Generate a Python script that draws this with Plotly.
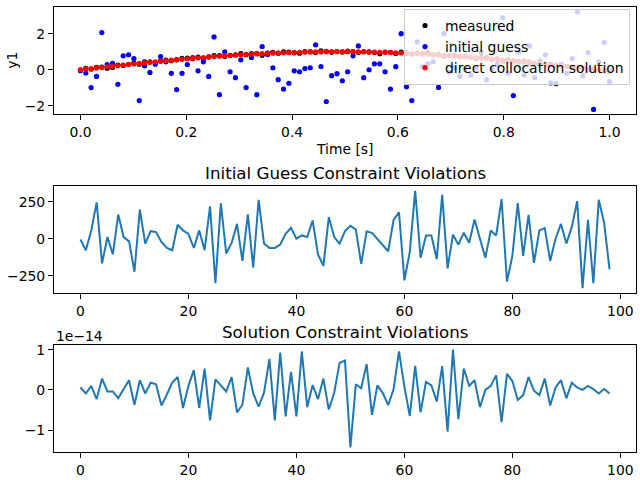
import numpy as np
import plotly.graph_objects as go

# ---------------- data ----------------
time = np.linspace(0.0, 1.0, 100)

measured = [-0.02, 0.08, 0.04, 0.14, 0.15, 0.09, 0.13, 0.26, 0.24, 0.30,
            0.37, 0.31, 0.44, 0.44, 0.39, 0.49, 0.54, 0.50, 0.56, 0.63,
            0.64, 0.61, 0.70, 0.62, 0.72, 0.78, 0.79, 0.74, 0.80, 0.83,
            0.89, 0.83, 0.89, 0.90, 0.80, 0.92, 0.96, 0.92, 0.99, 0.98,
            0.94, 0.92, 1.00, 1.00, 0.95, 1.05, 1.02, 0.97, 1.01, 0.98,
            1.03, 1.00, 0.95, 1.01, 0.99, 0.95, 0.89, 0.98, 0.96, 0.90,
            0.98, 0.94, 0.87, 0.93, 0.88, 0.92, 0.82, 0.85, 0.75, 0.80,
            0.80, 0.71, 0.77, 0.70, 0.63, 0.67, 0.68, 0.57, 0.60, 0.49,
            0.55, 0.49, 0.43, 0.48, 0.42, 0.33, 0.37, 0.30, 0.31, 0.22,
            0.26, 0.19, 0.12, 0.14, 0.12, 0.00, 0.05, 0.00, -0.07, -0.05]

initial_guess = [-0.05, -0.18, -0.99, -0.37, 2.06, 0.28, 0.35, -0.81, 0.77, 0.83,
                 0.62, -1.71, 0.22, -0.15, 0.31, 0.73, 0.44, -0.20, -1.10, -0.20,
                 0.29, 0.68, -0.06, 0.44, -0.37, 1.82, -1.38, 0.99, -0.11, -0.44,
                 0.55, -0.99, 0.68, -1.38, 1.29, 0.85, 0.11, -0.55, -1.07, -0.75,
                 -0.06, -0.11, 0.07, 0.11, 1.38, 0.18, -1.76, -0.33, -0.22, -0.61,
                 -0.11, 0.77, 1.32, -0.44, 0.00, 0.33, 0.33, -0.11, -1.07, 0.17,
                 2.00, -0.94, -1.71, 1.54, 0.18, 0.33, 0.45, -0.98, 2.00, -0.15,
                 0.10, -0.37, 0.07, -0.29, 0.10, 0.95, -0.55, 0.07, 0.30, 2.88,
                 -0.18, -1.43, 0.99, -0.29, 1.32, -0.44, 0.50, 0.83, -0.73, -0.77,
                 0.30, -0.20, 0.62, 3.21, -0.33, 0.95, -2.20, 0.44, 1.51, -0.66]

solution = [0.00, 0.03, 0.07, 0.10, 0.13, 0.16, 0.19, 0.23, 0.26, 0.29,
            0.32, 0.35, 0.38, 0.41, 0.44, 0.47, 0.50, 0.53, 0.55, 0.58,
            0.61, 0.63, 0.66, 0.68, 0.70, 0.73, 0.75, 0.77, 0.79, 0.81,
            0.83, 0.85, 0.86, 0.88, 0.89, 0.91, 0.92, 0.93, 0.94, 0.95,
            0.96, 0.97, 0.98, 0.99, 0.99, 0.99, 1.00, 1.00, 1.00, 1.00,
            1.00, 1.00, 0.99, 0.99, 0.98, 0.98, 0.97, 0.96, 0.95, 0.94,
            0.93, 0.92, 0.90, 0.89, 0.87, 0.86, 0.84, 0.82, 0.80, 0.78,
            0.76, 0.74, 0.72, 0.69, 0.67, 0.65, 0.62, 0.59, 0.57, 0.54,
            0.51, 0.48, 0.46, 0.43, 0.40, 0.37, 0.34, 0.31, 0.27, 0.24,
            0.21, 0.18, 0.15, 0.12, 0.08, 0.05, 0.02, -0.01, -0.05, -0.08]

guess_violations = [-5, -78, 56, 245, -167, 11, -105, 163, 11, -18,
                    -223, 196, -33, 51, 45, -22, -62, -78, 94, 56,
                    33, -62, 56, -78, 219, -301, 239, -100, -29, 100,
                    -150, 165, -196, 263, -33, -62, -62, -40, 33, 74,
                    0, 22, 11, 123, -107, -183, 145, 11, -33, 51,
                    87, 62, -170, 49, 40, 0, -45, -85, 127, 179,
                    -281, -89, 324, -129, 22, 22, -138, 297, -201, 27,
                    -40, 40, -27, 129, 0, -129, 56, 22, 268, -290,
                    -116, 241, -116, 161, -163, 56, 71, -150, 0, 100,
                    -33, 78, 254, -335, 127, -301, 263, 107, -208]

solution_violations_e14 = [0.06, -0.09, 0.10, -0.23, 0.28, -0.04, -0.04, -0.21, 0.02, 0.24,
                           -0.37, 0.24, -0.09, 0.18, 0.14, -0.39, -0.12, 0.18, 0.32, -0.45,
                           0.10, 0.49, -0.45, 0.53, -0.76, 0.26, 0.11, -0.04, 0.32, -0.56,
                           -0.37, 0.56, -0.08, -0.42, -0.07, 0.77, -0.76, 0.93, -0.66, 0.45,
                           -0.66, 0.96, -0.43, 0.12, -0.23, 0.28, -0.49, -0.07, 0.67, 0.73,
                           -1.43, 0.14, 0.04, 0.64, -0.62, 0.11, -0.08, -0.38, 0.02, 0.96,
                           0.08, -0.65, 0.60, -0.56, 0.20, 0.11, -0.29, 0.59, -1.04, 1.00,
                           -0.73, 0.53, 0.10, 0.24, -0.43, 0.00, 0.10, 0.36, -0.80, 0.40,
                           0.22, -0.25, -0.13, 0.32, -0.02, -0.13, 0.28, -0.39, 0.06, 0.24,
                           -0.21, 0.18, 0.06, 0.00, 0.10, 0.02, -0.09, 0.02, -0.09]

solution_violations = [v * 1e-14 for v in solution_violations_e14]
index = list(range(len(guess_violations)))

# ---------------- figure ----------------
FONT = "DejaVu Sans"
TICK = 13.9
BLUE = "#1f77b4"
MS = 5.2

fig = go.Figure()
fig.add_trace(go.Scatter(x=time, y=measured, mode="markers", name="measured",
                         marker=dict(color="black", size=MS), xaxis="x", yaxis="y"))
fig.add_trace(go.Scatter(x=time, y=initial_guess, mode="markers", name="initial guess",
                         marker=dict(color="blue", size=MS), xaxis="x", yaxis="y"))
fig.add_trace(go.Scatter(x=time, y=solution, mode="markers", name="direct collocation solution",
                         marker=dict(color="red", size=MS), xaxis="x", yaxis="y"))
fig.add_trace(go.Scatter(x=index, y=guess_violations, mode="lines", showlegend=False,
                         line=dict(color=BLUE, width=2), xaxis="x2", yaxis="y2"))
fig.add_trace(go.Scatter(x=index, y=solution_violations, mode="lines", showlegend=False,
                         line=dict(color=BLUE, width=2), xaxis="x3", yaxis="y3"))

xdom = [54 / 640, 636 / 640]
axcommon = dict(showline=True, mirror=True, linecolor="black", linewidth=1.1,
                ticks="outside", ticklen=5, tickwidth=1.1, tickcolor="black",
                showgrid=False, zeroline=False,
                tickfont=dict(family=FONT, size=TICK, color="black"))

fig.update_layout(
    width=640, height=480,
    margin=dict(l=0, r=0, t=0, b=0),
    paper_bgcolor="white", plot_bgcolor="white",
    font=dict(family=FONT, size=TICK, color="black"),
    xaxis=dict(domain=xdom, anchor="y", range=[-0.05, 1.05], tickvals=[0, 0.2, 0.4, 0.6, 0.8, 1.0],
               ticktext=["0.0", "0.2", "0.4", "0.6", "0.8", "1.0"], **axcommon),
    yaxis=dict(domain=[1 - 112 / 480, 1 - 4 / 480], anchor="x", range=[-2.47, 3.48],
               tickvals=[-2, 0, 2], **axcommon),
    xaxis2=dict(domain=xdom, anchor="y2", range=[-4.9, 102.9], tickvals=[0, 20, 40, 60, 80, 100], **axcommon),
    yaxis2=dict(domain=[1 - 292 / 480, 1 - 184 / 480], anchor="x2", range=[-368, 357],
                tickvals=[-250, 0, 250], **axcommon),
    xaxis3=dict(domain=xdom, anchor="y3", range=[-4.9, 102.9], tickvals=[0, 20, 40, 60, 80, 100], **axcommon),
    yaxis3=dict(domain=[1 - 452 / 480, 1 - 344 / 480], anchor="x3", range=[-1.55e-14, 1.12e-14],
                tickvals=[-1e-14, 0, 1e-14], ticktext=["\u22121", "0", "1"], **axcommon),
    legend=dict(x=630 / 640, xanchor="right", y=1 - 6 / 480, yanchor="top",
                bgcolor="rgba(255,255,255,0.8)", bordercolor="#cccccc", borderwidth=1,
                font=dict(family=FONT, size=TICK, color="black"),
                tracegroupgap=0, itemwidth=30),
    showlegend=True,
)

annotations = [
    dict(text="Time [s]", x=345 / 640, y=1 - 147 / 480, xref="paper", yref="paper",
         showarrow=False, font=dict(family=FONT, size=TICK), xanchor="center", yanchor="middle"),
    dict(text="y1", x=12 / 640, y=1 - 58 / 480, xref="paper", yref="paper", textangle=-90,
         showarrow=False, font=dict(family=FONT, size=TICK), xanchor="center", yanchor="middle"),
    dict(text="Initial Guess Constraint Violations", x=345 / 640, y=1 - 171 / 480,
         xref="paper", yref="paper", showarrow=False, font=dict(family=FONT, size=16.7),
         xanchor="center", yanchor="middle"),
    dict(text="Solution Constraint Violations", x=345 / 640, y=1 - 331 / 480,
         xref="paper", yref="paper", showarrow=False, font=dict(family=FONT, size=16.7),
         xanchor="center", yanchor="middle"),
    dict(text="1e\u221214", x=54 / 640, y=1 - 335 / 480, xref="paper", yref="paper",
         showarrow=False, font=dict(family=FONT, size=TICK), xanchor="left", yanchor="middle"),
]
fig.update_layout(annotations=annotations)

fig.write_html("out.html")
